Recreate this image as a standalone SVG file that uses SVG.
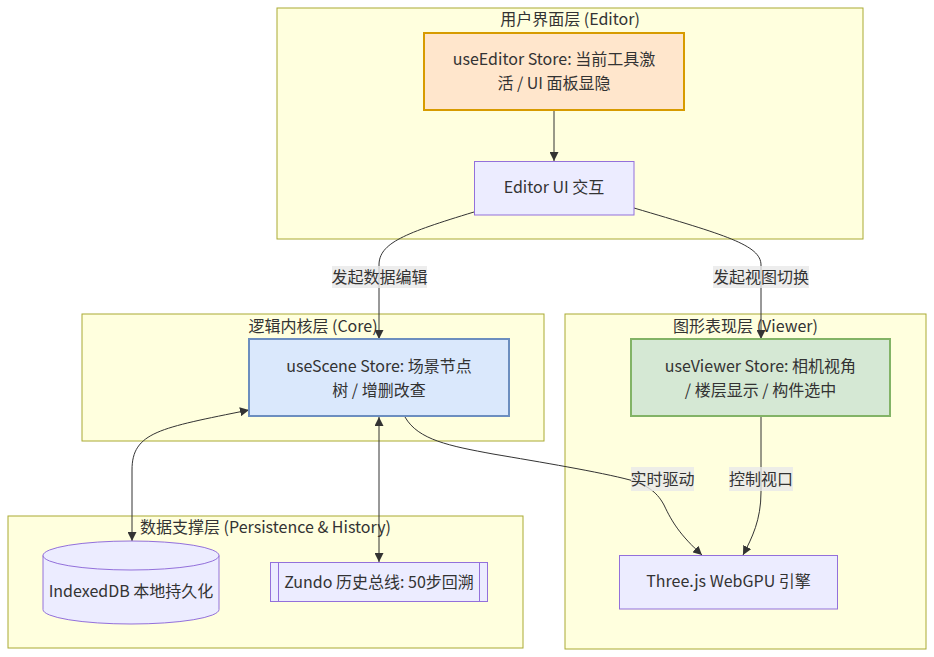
<svg xmlns="http://www.w3.org/2000/svg" width="934" height="657" viewBox="0 0 934 657">
  <style>
    text { font-family: "Noto Sans CJK SC", "Noto Sans", sans-serif; font-size: 16px; fill: #333333; text-anchor: middle; }
    .cluster { fill: #ffffde; stroke: #aaaa33; stroke-width: 1; }
    .node { fill: #ececff; stroke: #9370db; stroke-width: 1; }
    .edge { fill: none; stroke: #333333; stroke-width: 1; }
    .elabel { fill: rgba(232,232,232,0.8); }
  </style>
  <defs>
    <marker id="arrow" viewBox="0 0 10 10" refX="10" refY="5" markerUnits="userSpaceOnUse" markerWidth="9" markerHeight="9" orient="auto-start-reverse">
      <path d="M0,0 L10,5 L0,10 z" fill="#333333"/>
    </marker>
  </defs>

  <rect width="934" height="657" fill="#ffffff"/>

  <!-- subgraphs -->
  <g id="cluster-editor">
    <rect class="cluster" x="277" y="8" width="586" height="231"/>
    <text x="570" y="25">用户界面层 (Editor)</text>
  </g>
  <g id="cluster-core">
    <rect class="cluster" x="82" y="314" width="462" height="127"/>
    <text x="313" y="332">逻辑内核层 (Core)</text>
  </g>
  <g id="cluster-viewer">
    <rect class="cluster" x="565" y="314" width="361" height="335"/>
    <text x="745.5" y="332">图形表现层 (Viewer)</text>
  </g>
  <g id="cluster-data">
    <rect class="cluster" x="8" y="516" width="515" height="132"/>
    <text x="265.5" y="533">数据支撑层 (Persistence &amp; History)</text>
  </g>

  <!-- connectors -->
  <g id="edges">
    <path class="edge" d="M554,111 L554,161" marker-end="url(#arrow)"/>
    <path class="edge" d="M474,212 C405,233 379,243 379,265 L379,339" marker-end="url(#arrow)"/>
    <path class="edge" d="M634,208 C725,235 761,245 761,265 L761,339" marker-end="url(#arrow)"/>
    <path class="edge" d="M132,541 L132,470 C132,432 160,428 249,410" marker-start="url(#arrow)" marker-end="url(#arrow)"/>
    <path class="edge" d="M379,417 L379,562" marker-start="url(#arrow)" marker-end="url(#arrow)"/>
    <path class="edge" d="M405,417 C418,440 450,446 493,454 C540,462 600,472 630,480 C650,486 658,494 664,505 C672,522 680,535 702,555" marker-end="url(#arrow)"/>
    <path class="edge" d="M761,417 L761,492 C761,520 752,538 743,555" marker-end="url(#arrow)"/>
  </g>

  <!-- connector labels -->
  <g id="edge-labels">
    <rect class="elabel" x="332" y="266" width="95" height="22"/>
    <text x="379.5" y="283">发起数据编辑</text>
    <rect class="elabel" x="713" y="266" width="96" height="22"/>
    <text x="761" y="283">发起视图切换</text>
    <rect class="elabel" x="631" y="467" width="63" height="24"/>
    <text x="662.5" y="485">实时驱动</text>
    <rect class="elabel" x="729" y="467" width="64" height="24"/>
    <text x="761" y="485">控制视口</text>
  </g>

  <!-- nodes -->
  <g id="useEditor">
    <rect x="424" y="33" width="260" height="77" fill="#ffe6cc" stroke="#d79b00" stroke-width="2"/>
    <text x="554" y="65">useEditor Store: 当前工具激</text>
    <text x="554" y="89">活 / UI 面板显隐</text>
  </g>
  <g id="editorUI">
    <rect class="node" x="474.5" y="161.5" width="159.5" height="53.5"/>
    <text x="554" y="193">Editor UI 交互</text>
  </g>
  <g id="useScene">
    <rect x="249" y="339" width="260" height="77" fill="#dae8fc" stroke="#6c8ebf" stroke-width="2"/>
    <text x="379" y="372">useScene Store: 场景节点</text>
    <text x="379" y="396">树 / 增删改查</text>
  </g>
  <g id="useViewer">
    <rect x="631" y="339" width="259" height="77" fill="#d5e8d4" stroke="#82b366" stroke-width="2"/>
    <text x="760.5" y="372">useViewer Store: 相机视角</text>
    <text x="760.5" y="396">/ 楼层显示 / 构件选中</text>
  </g>
  <g id="indexedDB">
    <path class="node" d="M43,555.5 a88,14.5 0 0 0 176,0 a88,14.5 0 0 0 -176,0 l0,54 a88,14.5 0 0 0 176,0 l0,-54"/>
    <text x="131" y="597">IndexedDB 本地持久化</text>
  </g>
  <g id="zundo">
    <rect class="node" x="270.5" y="562.5" width="217" height="39"/>
    <line class="node" x1="278.5" y1="562.5" x2="278.5" y2="601.5"/>
    <line class="node" x1="479.5" y1="562.5" x2="479.5" y2="601.5"/>
    <text x="379" y="588">Zundo 历史总线: 50步回溯</text>
  </g>
  <g id="threejs">
    <rect class="node" x="619.5" y="555.5" width="218" height="53.5"/>
    <text x="728.5" y="587">Three.js WebGPU 引擎</text>
  </g>
</svg>
